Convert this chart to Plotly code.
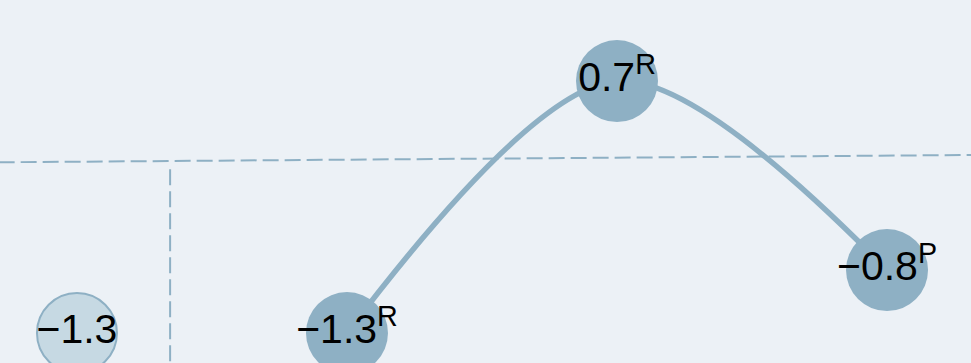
import plotly.graph_objects as go

# puntos de la serie principal
x_main = [1, 2, 3]
y_main = [-1.3, 0.7, -0.8]
sup_main = ["R", "R", "P"]

# punto aislado (referencia)
x_ref = [0]
y_ref = [-1.3]

# línea de referencia discontinua (horizontal, ligera pendiente) y vertical
hline_x = [-0.29, 3.32]
hline_y = [0.055, 0.113]
vline_x = [0.345, 0.345]
vline_y = [0.0, -2.0]

BG = "#ecf1f6"
BLUE = "#8eb0c4"
LIGHT = "#c6d9e3"
FONT = "Liberation Sans, Arial, sans-serif"


def fmt(v):
    return f"{v:.1f}".replace("-", "\u2212")


fig = go.Figure()

fig.add_trace(go.Scatter(
    x=hline_x, y=hline_y, mode="lines",
    line=dict(color=BLUE, width=2, dash="16px,6px"),
    hoverinfo="skip", showlegend=False
))

fig.add_trace(go.Scatter(
    x=vline_x, y=vline_y, mode="lines",
    line=dict(color=BLUE, width=2, dash="16px,6px"),
    hoverinfo="skip", showlegend=False
))

fig.add_trace(go.Scatter(
    x=x_ref, y=y_ref,
    mode="markers+text",
    marker=dict(size=80, color=LIGHT, line=dict(color=BLUE, width=2)),
    text=[fmt(v) for v in y_ref],
    textposition="middle center",
    textfont=dict(family=FONT, size=41, color="black"),
    showlegend=False
))

fig.add_trace(go.Scatter(
    x=x_main, y=y_main,
    mode="lines+markers+text",
    line=dict(color=BLUE, width=5.5, shape="spline", smoothing=0.9),
    marker=dict(size=82, color=BLUE),
    text=[f"{fmt(v)}<sup>{s}</sup>" for v, s in zip(y_main, sup_main)],
    textposition="middle center",
    textfont=dict(family=FONT, size=41, color="black"),
    showlegend=False
))

fig.update_layout(
    width=971,
    height=363,
    margin=dict(l=0, r=0, t=0, b=0),
    paper_bgcolor=BG,
    plot_bgcolor=BG,
    xaxis=dict(range=[-0.285, 3.311], visible=False, fixedrange=True),
    yaxis=dict(range=[-1.538, 1.343], visible=False, fixedrange=True),
)

fig.write_html(
    "out.html",
    config={"displayModeBar": False},
    post_script="document.body.style.margin='0';document.body.style.background='" + BG + "';",
)
